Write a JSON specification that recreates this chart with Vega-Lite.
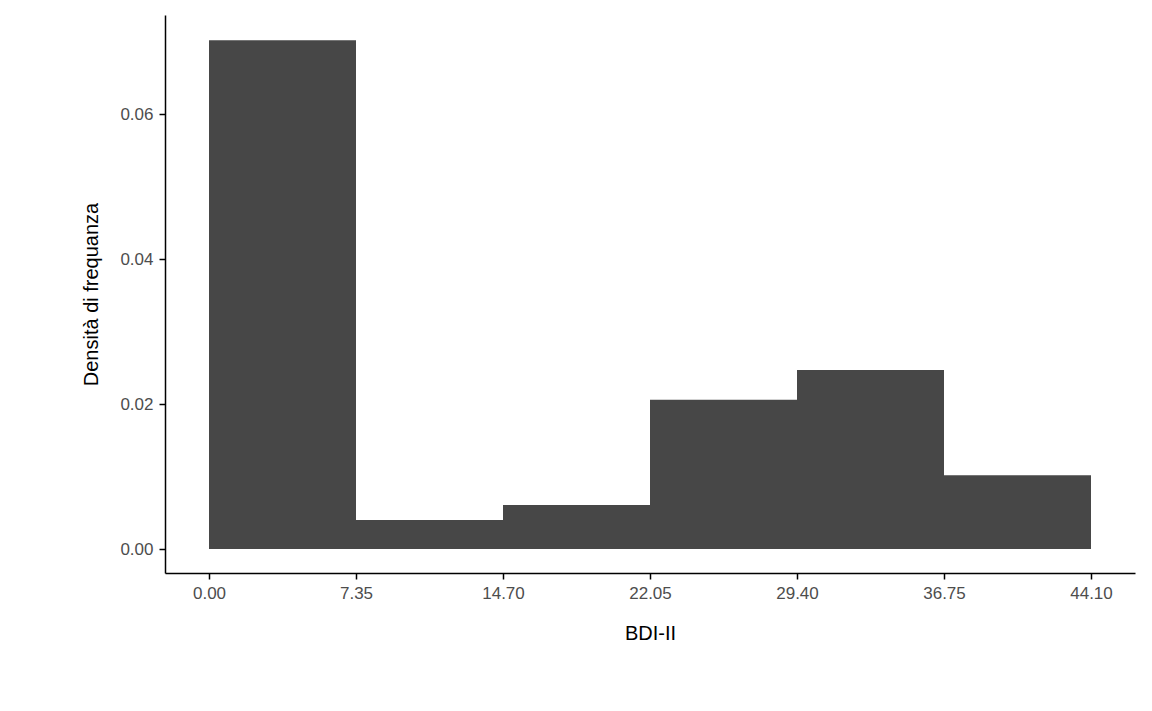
{
  "$schema": "https://vega.github.io/schema/vega-lite/v6.json",
  "autosize": "none",
  "padding": {"left": 165, "top": 15, "right": 17, "bottom": 138},
  "width": 970,
  "height": 558,
  "background": "white",
  "data": {
    "values": [
      {"start": 0.0, "end": 7.35, "density": 0.0702},
      {"start": 7.35, "end": 14.7, "density": 0.0040},
      {"start": 14.7, "end": 22.05, "density": 0.0061},
      {"start": 22.05, "end": 29.4, "density": 0.0206},
      {"start": 29.4, "end": 36.75, "density": 0.0247},
      {"start": 36.75, "end": 44.1, "density": 0.0102}
    ]
  },
  "mark": {"type": "bar", "color": "#474747", "binSpacing": 0},
  "encoding": {
    "x": {
      "field": "start",
      "type": "quantitative",
      "scale": {"domain": [-2.2, 46.3], "nice": false, "zero": false},
      "axis": {"values": [0, 7.35, 14.7, 22.05, 29.4, 36.75, 44.1], "format": ".2f", "title": "BDI-II", "titlePadding": 22}
    },
    "x2": {"field": "end"},
    "y": {
      "field": "density",
      "type": "quantitative",
      "scale": {"domain": [-0.0033, 0.0737], "nice": false, "zero": false},
      "axis": {"values": [0, 0.02, 0.04, 0.06], "format": ".2f", "title": "Densità di frequanza", "titlePadding": 18}
    },
    "y2": {"datum": 0}
  },
  "config": {
    "view": {"stroke": null},
    "font": "Liberation Sans",
    "axis": {
      "grid": false,
      "domainColor": "black",
      "domainWidth": 1.5,
      "tickColor": "black",
      "tickWidth": 1.5,
      "tickSize": 6,
      "labelColor": "#4d4d4d",
      "labelFontSize": 17,
      "labelPadding": 6,
      "titleFontSize": 20,
      "titleFontWeight": "normal",
      "titleColor": "black"
    }
  }
}
